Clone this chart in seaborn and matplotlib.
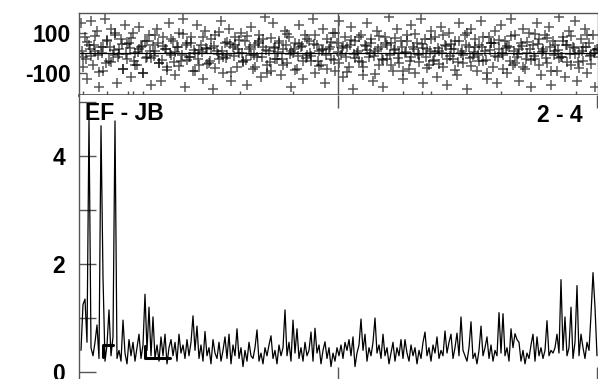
"""
plot.py - espectro con panel de residuos arriba (EF - JB, 2 - 4)
"""

import numpy as np
import pandas as pd
import matplotlib
matplotlib.use("Agg")
import matplotlib.pyplot as plt
import seaborn as sns

# --- datos ---
# amplitud (panel inferior), un valor cada 2 px
amplitud = [
    0.40, 1.25, 1.35, 0.55, 4.69, 0.45, 0.30, 0.55, 0.87, 0.25,
    4.56, 1.76, 0.20, 0.50, 1.15, 0.30, 0.65, 4.65, 0.25, 0.40,
    0.20, 0.96, 0.35, 0.15, 0.60, 0.30, 0.55, 0.20, 0.45, 0.70,
    0.25, 0.50, 1.44, 0.40, 1.20, 0.30, 1.02, 0.25, 0.50, 0.20,
    0.65, 0.30, 0.70, 0.15, 0.45, 0.60, 0.30, 0.55, 0.20, 0.70,
    0.35, 0.50, 0.25, 0.60, 0.30, 0.55, 1.04, 0.40, 0.85, 0.25,
    0.50, 0.20, 0.75, 0.30, 0.45, 0.15, 0.60, 0.35, 0.25, 0.55,
    0.20, 0.40, 0.65, 0.25, 0.70, 0.15, 0.50, 0.30, 0.80, 0.25,
    0.45, 0.10, 0.40, 0.20, 0.55, 0.30, 0.25, 0.45, 0.78, 0.20,
    0.35, 0.15, 0.45, 0.30, 0.50, 0.67, 0.25, 0.40, 0.15, 0.50,
    0.30, 0.45, 1.15, 0.30, 0.55, 0.20, 0.96, 0.35, 0.80, 0.25,
    0.45, 0.20, 0.55, 0.30, 0.40, 0.74, 0.20, 0.81, 0.35, 0.50,
    0.15, 0.40, 0.56, 0.25, 0.45, 0.10, 0.35, 0.20, 0.45, 0.30,
    0.50, 0.25, 0.55, 0.40, 0.60, 0.30, 0.65, 0.10, 0.35, 0.50,
    0.98, 0.40, 0.70, 0.20, 0.45, 0.30, 0.55, 1.00, 0.35, 0.50,
    0.25, 0.70, 0.30, 0.45, 0.15, 0.35, 0.55, 0.20, 0.45, 0.30,
    0.60, 0.25, 0.60, 0.35, 0.20, 0.50, 0.30, 0.45, 0.15, 0.40,
    0.25, 0.55, 0.74, 0.30, 0.45, 0.20, 0.50, 0.35, 0.65, 0.25,
    0.40, 0.30, 0.76, 0.35, 0.55, 0.70, 0.25, 0.45, 0.72, 0.30,
    1.02, 0.40, 0.30, 0.20, 0.45, 0.93, 0.25, 0.35, 0.15, 0.40,
    0.85, 0.30, 0.45, 0.65, 0.25, 0.50, 0.20, 0.40, 0.30, 1.10,
    0.35, 1.08, 0.30, 0.45, 0.20, 0.80, 0.45, 0.71, 0.60, 0.55,
    0.20, 0.40, 0.15, 0.35, 0.25, 0.50, 0.70, 0.20, 0.65, 0.30,
    0.45, 0.25, 0.40, 0.95, 0.30, 0.40, 0.35, 0.45, 0.70, 0.35,
    1.71, 0.40, 1.02, 0.30, 0.45, 1.20, 0.25, 0.55, 1.60, 0.30,
    0.70, 0.45, 0.25, 0.55, 0.40, 1.06, 1.84, 1.20, 0.30,
]

# trazos gruesos cortos (nivel medio) en la zona baja, dos tramos
tramo1_x = [11, 11, 16]
tramo1_y = [0.28, 0.50, 0.50]
tramo2_x = [32, 32, 44.5]
tramo2_y = [0.48, 0.26, 0.26]

# residuos (panel superior), un punto por canal
residuo_a = [
    150, -20, 80, -130, 40, 160, -60, 10, 110, -170, 30, -90, 170, 60, -40, 120, -10, 90, -150, 20,
    70, -80, 140, -30, 50, -120, 100, 0, -60, 130, 30, -100, 60, -20, 90, -160, 40, 10, 120, -50,
    -140, 80, 20, -70, 150, -10, 60, -110, 30, 100, -40, 170, -170, 50, -20, 80, -90, 0, 140, -60,
    40, -130, 110, 20, -50, 70, -180, 90, 10, -30, 160, -100, 50, -10, 120, -140, 30, 80, -70, 0,
    100, -40, 60, -160, 20, 130, -80, 40, -20, 90, -120, 70, 180, -60, 10, -90, 150, 30, -30, 60,
    -110, 20, 110, -50, 80, -170, 0, 50, -80, 140, 30, -130, 90, -10, 60, -40, 170, -100, 40, 10,
    -60, 120, -150, 70, 20, -30, 100, -90, 50, 160, -10, -120, 80, 30, -70, 130, -180, 60, 0, -40,
    90, -110, 40, 150, -20, 70, -140, 10, 110, -60, 30, -170, 80, -30, 180, 50, -90, 20, 120, -50,
    60, -130, 0, 90, -80, 140, 30, -100, 50, -10, 170, -150, 70, 20, -60, 110, -40, 80, -120, 10,
    130, -70, 40, -160, 100, 20, -30, 60, -110, 150, 0, -50, 90, -180, 30, 120, -20, 70, -90, 40,
    160, -40, 10, -130, 80, 50, -70, 110, -150, 20, 140, -10, 60, -100, 30, 170, -60, 90, -20, -140,
    50, 120, -80, 0, 100, -170, 40, -30, 150, 70, -110, 20, 90, -50, 130, -160, 60, 10, -90, 180,
    -20, 80, -120, 40, 110, -60, 30, 160, -140, 0, 70, -40, 120, -100, 50, -10, 90, -170, 20,
]
# segunda serie de residuos (canales intermedios, cerca de cero)
residuo_b = [
    10, -30, 20, 40, -10, 0, -50, 30, 15, -20, 45, -5, 25, -40, 5, 35, -25, 10, -15, 50,
    -35, 20, 0, -45, 30, -10, 40, -20, 15, -30, 5, 25, -40, 35, -5, 10, -25, 45, -15, 20,
    0, -35, 30, -10, 50, -20, 15, -45, 25, 5, -30, 40, -5, 20, -15, 35, -25, 0, 45, -40,
    15, -10, 30, -35, 5, 25, -20, 40, -5, 10, -45, 35, 0, -15, 20, -30, 50, -10, 15, -25,
    30, 5, -40, 20, -5, 45, -20, 10, -35, 25, 0, 35, -15, 20, -45, 10, 40, -25, 5, -10,
    30, -35, 15, 50, -20, 0, 25, -40, 10, -5, 35, -30, 20, -15, 45, 5, -25, 30, -10, 15,
    -20, 40, -5, 25, -45, 10, 30, -15, 0, 20,
]
# tercera serie (canales impares, dispersion intermedia)
residuo_c = [
    -70, 55, -15, 85, -95, 30, 65, -45, 100, -5, -80, 45, 75, -60, 20, -100, 60, -25, 90, -50,
    35, -85, 70, 5, -65, 95, -35, 50, -90, 15, 80, -55, 25, -75, 105, -20, 55, -95, 40, 65,
    -45, 85, -10, -70, 60, 30, -100, 75, -30, 50, -60, 95, 10, -85, 45, -40, 70, -15, 90, -65,
    20, -80, 55, 100, -50, 35, -95, 65, -25, 80, -70, 15, 50, -105, 85, -35, 40, -60, 75, 0,
    -90, 60, -20, 95, -45, 25, -75, 70, 5, -55, 90, -30, 45, -85, 60, -10, 100, -65, 30, -40,
    80, -100, 50, -15, 65, -80, 35, 85, -50, 20, -70, 55, -35, 95, -60, 10, 75, -90, 40, -25,
    60, -45, 85, -5, -75, 30, 90, -55, 15, -20,
]

texto_izq = "EF - JB"
texto_der = "2 - 4"
ticks_y_sup = [-100, 100]
ticks_y_inf = [0, 2, 4]
ticks_y_inf_menores = [1, 3, 5]
ticks_x = [128.5, 258]
ticks_x_menores = [1, 13, 23.5, 26, 31, 79.5, 106, 161, 170.5, 175, 210, 247.5]

GRIS = "#555555"


def main():
    sns.set_theme(style="white")
    plt.rcParams["font.family"] = ["Liberation Sans", "DejaVu Sans"]
    plt.rcParams["font.weight"] = "bold"
    plt.rcParams["text.color"] = "black"
    plt.rcParams["xtick.labelcolor"] = "black"
    plt.rcParams["ytick.labelcolor"] = "black"

    df_amp = pd.DataFrame({"canal": np.arange(len(amplitud)), "amp": amplitud})
    df_res = pd.concat([
        pd.DataFrame({"canal": np.arange(len(residuo_a)), "res": residuo_a}),
        pd.DataFrame({"canal": 0.5 + 2 * np.arange(len(residuo_b)), "res": residuo_b}),
        pd.DataFrame({"canal": 1.0 + 2 * np.arange(len(residuo_c)), "res": residuo_c}),
    ])

    fig = plt.figure(figsize=(5.98, 3.79), dpi=100)
    ax_sup = fig.add_axes([79 / 598, 1 - 95 / 379, 519 / 598, 82 / 379])
    ax_inf = fig.add_axes([79 / 598, 0, 519 / 598, 284 / 379])

    # --- panel superior: residuos ---
    sns.scatterplot(data=df_res, x="canal", y="res", marker="+", s=55,
                    color="black", alpha=0.65, linewidth=1.1, ax=ax_sup, legend=False)
    ax_sup.axhline(0, color="black", lw=0.9)
    ax_sup.axvline(ticks_x[0], color=GRIS, lw=1.0)
    ax_sup.set_xlim(-1, 258.5)
    ax_sup.set_ylim(-210, 200)
    ax_sup.set_yticks(ticks_y_sup)
    ax_sup.set_yticklabels([str(t) for t in ticks_y_sup], fontsize=16.5, fontweight="bold",
                           color="black")
    ax_sup.set_xticks([])
    ax_sup.set_xticks(ticks_x_menores, minor=True)
    ax_sup.tick_params(axis="y", direction="in", length=6, width=1, color=GRIS, pad=6, left=True)
    ax_sup.tick_params(axis="x", which="minor", direction="in", length=3, width=1,
                       color=GRIS, bottom=True)
    ax_sup.set_xlabel("")
    ax_sup.set_ylabel("")
    for lado, sp in ax_sup.spines.items():
        sp.set_color(GRIS)
        sp.set_linewidth(1.0)
    ax_sup.spines["bottom"].set_linewidth(2.0)

    # --- panel inferior: amplitud ---
    sns.lineplot(data=df_amp, x="canal", y="amp", color="black", lw=0.9, ax=ax_inf)
    ax_inf.plot(tramo1_x, tramo1_y, color="black", lw=2.2)
    ax_inf.plot(tramo2_x, tramo2_y, color="black", lw=2.2)
    ax_inf.set_xlim(-1, 258.5)
    ax_inf.set_ylim(-0.13, 5.13)
    ax_inf.set_yticks(ticks_y_inf)
    ax_inf.set_yticklabels([str(t) for t in ticks_y_inf], fontsize=16.5, fontweight="bold",
                           color="black")
    ax_inf.set_yticks(ticks_y_inf_menores, minor=True)
    ax_inf.set_xticks(ticks_x)
    ax_inf.set_xticklabels([])
    ax_inf.tick_params(axis="y", which="both", direction="in", length=12, width=1,
                       color=GRIS, pad=10, left=True)
    ax_inf.tick_params(axis="x", direction="in", length=9, width=1, color=GRIS,
                       top=True, bottom=True)
    ax_inf.set_xlabel("")
    ax_inf.set_ylabel("")
    for lado in ["top", "right", "bottom"]:
        ax_inf.spines[lado].set_visible(False)
    ax_inf.spines["left"].set_color(GRIS)
    ax_inf.spines["left"].set_linewidth(1.0)

    ax_inf.text(0.012, 0.975, texto_izq, transform=ax_inf.transAxes, ha="left", va="top",
                fontsize=16.5, fontweight="bold", color="black")
    ax_inf.text(0.971, 0.97, texto_der, transform=ax_inf.transAxes, ha="right", va="top",
                fontsize=16.5, fontweight="bold", color="black")

    fig.savefig("out.png", dpi=100)
    plt.close(fig)


if __name__ == "__main__":
    main()
